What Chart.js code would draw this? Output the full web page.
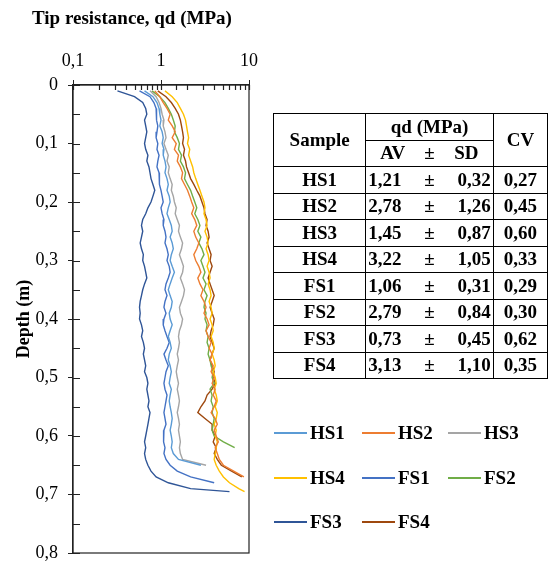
<!DOCTYPE html>
<html>
<head>
<meta charset="utf-8">
<script src="https://cdn.jsdelivr.net/npm/chart.js@4.4.1/dist/chart.umd.min.js"></script>
<style>
  html, body { margin: 0; padding: 0; background: #fff; }
  #wrap { position: relative; width: 552px; height: 562px; font-family: 'Liberation Serif', 'Times New Roman', serif; color: #000; }
  #chart { position: absolute; left: 0; top: 0; }
  #title { position: absolute; left: 32px; top: 7px; font-size: 19px; font-weight: bold; white-space: nowrap; }
  #stats { position: absolute; left: 273px; top: 113px; width: 275px; border-collapse: collapse; font-size: 19px; font-weight: bold; }
  #stats td, #stats th { border: 1px solid #000; padding: 0 2px; text-align: center; }
  #stats tr { height: 26.5px; }
  #stats .av { text-align: left; border-right: none; }
  #stats .pm { border-left: none; border-right: none; }
  #stats .sd { text-align: right; border-left: none; }
  #legend { position: absolute; left: 274px; top: 411px; display: grid; grid-template-columns: 88px 86px 86px; grid-auto-rows: 44.5px; font-size: 19px; font-weight: bold; }
  #legend div { display: flex; align-items: center; }
  #legend span.ln { display: inline-block; width: 33px; height: 2px; margin-right: 3px; }
</style>
</head>
<body>
<div id="wrap">
  <canvas id="chart" width="552" height="562"></canvas>
  <div id="title">Tip resistance, qd (MPa)</div>
  <table id="stats"></table>
  <div id="legend"></div>
</div>
<script>
// depth (m) of each reading
const depth = [0.01,0.02,0.03,0.04,0.05,0.06,0.07,0.08,0.09,0.10,
  0.11,0.12,0.13,0.14,0.15,0.16,0.17,0.18,0.19,0.20,
  0.21,0.22,0.23,0.24,0.25,0.26,0.27,0.28,0.29,0.30,
  0.31,0.32,0.33,0.34,0.35,0.36,0.37,0.38,0.39,0.40,
  0.41,0.42,0.43,0.44,0.45,0.46,0.47,0.48,0.49,0.50,
  0.51,0.52,0.53,0.54,0.55,0.56,0.57,0.58,0.59,0.60,
  0.61,0.62,0.63,0.64,0.65,0.66,0.67,0.68,0.69,0.695]

// tip resistance qd (MPa) per sample
const HS1 = [0.65,0.81,0.90,0.95,0.97,1.00,0.97,1.03,1.06,1.03,
  1.08,1.06,1.11,1.14,1.11,1.17,1.21,1.17,1.24,1.27,
  1.21,1.17,1.24,1.31,1.34,1.27,1.34,1.38,1.31,1.27,
  1.34,1.42,1.34,1.27,1.21,1.27,1.34,1.31,1.24,1.27,
  1.34,1.27,1.21,1.27,1.31,1.24,1.21,1.27,1.31,1.27,
  1.24,1.31,1.27,1.24,1.27,1.31,1.34,1.31,1.27,1.31,
  1.34,1.31,1.38,1.58,2.84]
const HS2 = [0.85,0.97,1.06,1.17,1.27,1.21,1.34,1.45,1.34,1.49,
  1.42,1.58,1.53,1.66,1.76,1.71,1.85,2.00,2.12,2.23,
  2.36,2.23,2.42,2.55,2.36,2.48,2.69,2.55,2.36,2.48,
  2.69,2.84,2.62,2.77,3.00,2.84,3.08,3.25,3.08,3.34,
  3.52,3.25,3.43,3.71,3.52,3.81,3.61,3.92,3.71,4.02,
  3.81,4.13,3.92,4.24,4.02,3.71,4.13,4.36,4.02,4.24,
  4.48,4.13,4.36,4.60,5.12,6.70,8.75]
const HS3 = [0.75,0.88,0.95,1.00,1.03,1.08,1.06,1.11,1.14,1.08,
  1.14,1.21,1.17,1.24,1.21,1.27,1.34,1.31,1.38,1.42,
  1.49,1.45,1.53,1.62,1.58,1.66,1.76,1.71,1.62,1.71,
  1.80,1.76,1.66,1.76,1.85,1.80,1.71,1.62,1.66,1.76,
  1.71,1.62,1.58,1.62,1.58,1.53,1.58,1.53,1.49,1.53,
  1.58,1.53,1.58,1.62,1.58,1.53,1.58,1.62,1.58,1.62,
  1.66,1.62,1.66,1.76,3.25]
const HS4 = [1.11,1.34,1.53,1.66,1.80,1.90,1.95,2.00,2.06,2.00,
  2.12,2.06,2.17,2.29,2.36,2.48,2.62,2.77,2.92,3.08,
  3.16,3.08,3.25,3.34,3.16,3.34,3.43,3.25,3.43,3.52,
  3.34,3.52,3.61,3.43,3.61,3.71,3.52,3.71,3.81,3.61,
  3.81,3.92,3.71,3.92,4.02,3.81,4.02,4.13,3.92,4.13,
  4.24,4.02,4.24,4.36,4.13,4.36,4.24,4.02,4.24,4.13,
  4.36,4.24,4.13,4.02,4.24,4.60,5.12,6.00,7.65,8.90]
const FS1 = [0.57,0.75,0.83,0.88,0.90,0.88,0.92,0.90,0.88,0.92,
  0.90,0.95,0.92,0.90,0.95,0.97,0.95,1.00,1.03,1.06,
  1.00,1.03,1.08,1.06,1.11,1.14,1.11,1.17,1.21,1.17,
  1.24,1.27,1.21,1.14,1.11,1.17,1.11,1.08,1.14,1.08,
  1.06,1.11,1.17,1.24,1.17,1.08,1.14,1.21,1.14,1.11,
  1.08,1.11,1.17,1.14,1.11,1.08,1.11,1.14,1.08,1.06,
  1.08,1.11,1.08,1.14,1.27,1.53,2.17,4.02]
const FS2 = [0.79,0.97,1.11,1.21,1.31,1.38,1.45,1.42,1.53,1.62,
  1.58,1.71,1.66,1.80,1.90,1.85,2.00,2.17,2.29,2.42,
  2.55,2.42,2.62,2.77,2.62,2.84,2.69,2.92,3.08,2.84,
  3.00,3.16,3.00,3.25,3.08,3.34,3.16,3.08,3.25,3.16,
  3.34,3.25,3.43,3.34,3.52,3.43,3.61,3.71,3.92,3.81,
  4.02,3.61,3.81,3.71,3.92,3.81,4.02,3.92,3.81,4.02,
  5.12,6.87]
const FS3 = [0.32,0.50,0.62,0.67,0.69,0.65,0.67,0.69,0.67,0.65,
  0.67,0.71,0.69,0.73,0.75,0.77,0.81,0.85,0.81,0.77,
  0.71,0.67,0.62,0.60,0.62,0.60,0.58,0.60,0.63,0.62,
  0.65,0.67,0.69,0.65,0.62,0.60,0.58,0.57,0.58,0.57,
  0.60,0.62,0.60,0.63,0.65,0.63,0.65,0.67,0.65,0.69,
  0.71,0.69,0.71,0.73,0.71,0.75,0.73,0.71,0.69,0.67,
  0.65,0.67,0.65,0.67,0.71,0.77,0.88,1.21,2.17,6.00]
const FS4 = [0.92,1.14,1.31,1.45,1.58,1.66,1.71,1.76,1.80,1.76,
  1.85,1.80,1.90,1.95,2.06,2.17,2.36,2.55,2.77,2.92,
  3.08,3.16,3.34,3.25,3.43,3.52,3.34,3.52,3.71,3.61,
  3.81,3.61,3.43,3.61,3.81,4.02,3.81,3.61,3.81,4.02,
  3.92,3.71,3.61,3.81,4.02,3.81,3.61,3.81,4.02,3.92,
  4.13,3.81,3.34,3.16,2.84,2.62,3.16,3.81,3.81,4.13,
  3.92,4.24,4.02,4.36,4.85,6.34,8.29]

const seriesNames = ['HS1', 'HS2', 'HS3', 'HS4', 'FS1', 'FS2', 'FS3', 'FS4']
const seriesValues = [HS1, HS2, HS3, HS4, FS1, FS2, FS3, FS4]
const seriesColors = ['#5b9bd5', '#ed7d31', '#a5a5a5', '#ffc000', '#4472c4', '#70ad47', '#2f5597', '#9e480e']

// summary table
const tableAV = [1.21, 2.78, 1.45, 3.22, 1.06, 2.79, 0.73, 3.13]
const tableSD = [0.32, 1.26, 0.87, 1.05, 0.31, 0.84, 0.45, 1.10]
const tableCV = [0.27, 0.45, 0.60, 0.33, 0.29, 0.30, 0.62, 0.35]

const serif = "'Liberation Serif', 'Times New Roman', serif"
const comma = (v, d) => v.toFixed(d).replace('.', ',')
const isDecade = v => Math.abs(Math.log10(v) - Math.round(Math.log10(v))) < 1e-9
const isTenth = v => Math.round(v * 20) % 2 === 0

// inward tick marks and the closing frame
const frame = {
  id: 'frame',
  afterDraw(chart) {
    const { ctx, chartArea: a, scales } = chart
    ctx.save()
    ctx.strokeStyle = '#222'
    ctx.lineWidth = 1.2
    ctx.strokeRect(a.left, a.top, a.right - a.left, a.bottom - a.top)
    ctx.beginPath()
    scales.x.ticks.forEach(t => {
      const px = Math.round(scales.x.getPixelForValue(t.value)) + 0.5
      ctx.moveTo(px, a.top)
      ctx.lineTo(px, a.top + 5)
    })
    scales.y.ticks.forEach(t => {
      const py = Math.round(scales.y.getPixelForValue(t.value)) + 0.5
      ctx.moveTo(a.left, py)
      ctx.lineTo(a.left + 7, py)
    })
    ctx.stroke()
    ctx.restore()
  }
}

new Chart(document.getElementById('chart'), {
  type: 'scatter',
  data: {
    datasets: seriesNames.map((name, i) => ({
      label: name,
      data: seriesValues[i].map((q, k) => ({ x: q, y: depth[k] })),
      borderColor: seriesColors[i],
      backgroundColor: seriesColors[i],
      borderWidth: 1.4,
      pointRadius: 0,
      showLine: true,
      tension: 0,
    })),
  },
  options: {
    responsive: false,
    animation: false,
    events: [],
    layout: { padding: { left: 0, top: 33, right: 303, bottom: 0 } },
    plugins: { legend: { display: false }, tooltip: { enabled: false } },
    scales: {
      x: {
        type: 'logarithmic',
        position: 'top',
        min: 0.1,
        max: 10,
        afterFit: s => { s.height = 52 },
        border: { color: '#222', width: 1.2 },
        grid: {
          drawOnChartArea: false,
          tickLength: 5,
          tickColor: c => (c.tick && isDecade(c.tick.value) ? '#222' : 'rgba(0,0,0,0)'),
        },
        ticks: {
          autoSkip: false,
          maxRotation: 0,
          padding: 8,
          color: '#000',
          font: { family: serif, size: 18 },
          callback: v => (isDecade(v) ? comma(v, v < 1 ? 1 : 0) : ''),
        },
      },
      y: {
        reverse: true,
        min: 0,
        max: 0.8,
        afterFit: s => {
          s.width = 73
          s.paddingTop = 0
          s.paddingBottom = 9
        },
        border: { color: '#222', width: 1.2 },
        grid: {
          drawOnChartArea: false,
          tickLength: 5,
          tickColor: c => (c.tick && isTenth(c.tick.value) ? '#222' : 'rgba(0,0,0,0)'),
        },
        title: {
          display: true,
          text: 'Depth (m)',
          color: '#000',
          font: { family: serif, size: 18, weight: 'bold' },
          padding: { top: 14, bottom: 0 },
        },
        ticks: {
          stepSize: 0.05,
          autoSkip: false,
          padding: 10,
          color: '#000',
          font: { family: serif, size: 18 },
          callback: v => (isTenth(v) ? (v === 0 ? '0' : comma(v, 1)) : ''),
        },
      },
    },
  },
  plugins: [frame],
})

// table
const stats = document.getElementById('stats')
let rows = '<tr><th rowspan="2">Sample</th><th colspan="3">qd (MPa)</th><th rowspan="2">CV</th></tr>' +
  '<tr><th class="av" style="text-align:center">AV</th><th class="pm">±</th><th class="sd" style="text-align:center">SD</th></tr>'
seriesNames.forEach((name, i) => {
  rows += '<tr><td>' + name + '</td><td class="av">' + comma(tableAV[i], 2) + '</td><td class="pm">±</td><td class="sd">' +
    comma(tableSD[i], 2) + '</td><td>' + comma(tableCV[i], 2) + '</td></tr>'
})
stats.innerHTML = rows

// legend
document.getElementById('legend').innerHTML = seriesNames.map((name, i) =>
  '<div><span class="ln" style="background:' + seriesColors[i] + '"></span>' + name + '</div>').join('')
</script>
</body>
</html>
